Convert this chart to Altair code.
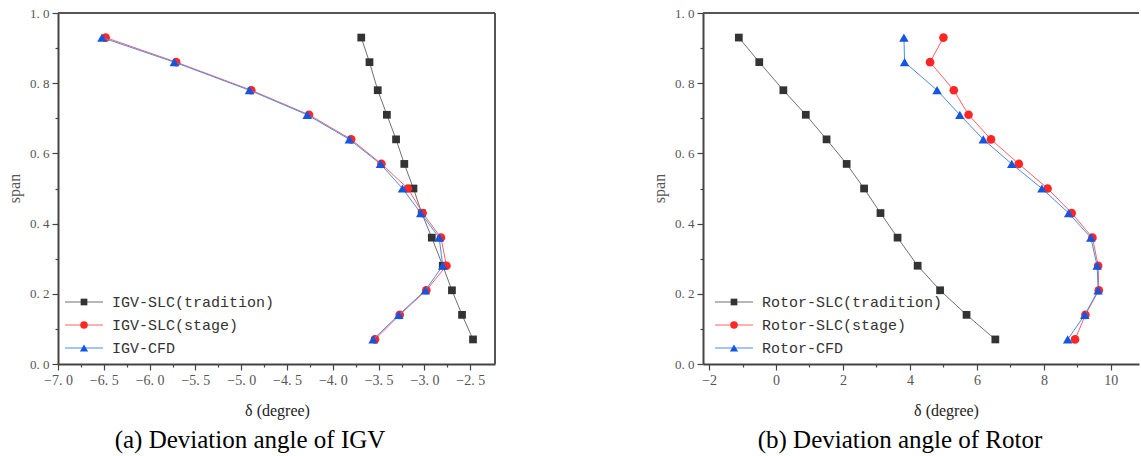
import altair as alt
import pandas as pd

# ---------------- data ----------------
span = [0.93, 0.86, 0.78, 0.71, 0.64, 0.57, 0.50, 0.43, 0.36, 0.28, 0.21, 0.14, 0.07]

igv_trad = [-3.69, -3.60, -3.51, -3.41, -3.31, -3.22, -3.12, -3.03, -2.92, -2.80, -2.70, -2.59, -2.47]
igv_stage = [-6.48, -5.71, -4.89, -4.26, -3.80, -3.47, -3.18, -3.02, -2.82, -2.76, -2.98, -3.27, -3.54]
igv_cfd = [-6.52, -5.73, -4.91, -4.28, -3.82, -3.48, -3.24, -3.04, -2.84, -2.80, -2.99, -3.28, -3.56]

rotor_trad = [-1.11, -0.50, 0.22, 0.89, 1.51, 2.11, 2.63, 3.12, 3.63, 4.23, 4.90, 5.69, 6.55]
rotor_stage = [5.00, 4.60, 5.31, 5.75, 6.42, 7.25, 8.11, 8.83, 9.45, 9.62, 9.64, 9.24, 8.93]
rotor_cfd = [3.82, 3.84, 4.81, 5.49, 6.19, 7.04, 7.94, 8.74, 9.40, 9.59, 9.62, 9.22, 8.71]

igv_names = ["IGV-SLC(tradition)", "IGV-SLC(stage)", "IGV-CFD"]
rotor_names = ["Rotor-SLC(tradition)", "Rotor-SLC(stage)", "Rotor-CFD"]

igv_ticks = [-7.0 + 0.25 * i for i in range(19)]
rotor_ticks = [float(v) for v in range(-2, 11)]
span_ticks = [round(0.1 * i, 1) for i in range(11)]

captions = ["(a) Deviation angle of IGV", "(b) Deviation angle of Rotor"]

# ---------------- styles ----------------
STYLES = [
    dict(line="#707070", marker="#333333", shape="square", size=60),
    dict(line="#ff6060", marker="#ff2626", shape="circle", size=75),
    dict(line="#4a8ce8", marker="#1556e0", shape="triangle-up", size=90),
]
AX = "#444444"
LABEL_FONT = "Liberation Serif"
ONE = pd.DataFrame({"k": [0]})


def panel(series, names, domain, width, xticks, major_test, label_expr,
          title_x, caption, caption_x, leg_x0, ylabel_size):
    height = 351
    xaxis = alt.Axis(
        values=xticks, labelExpr=label_expr, labelOverlap=False, labelFlush=False,
        tickSize={"condition": {"test": major_test, "value": 6}, "value": 3},
        title="δ (degree)", titleX=title_x, titleY=51, titleBaseline="alphabetic",
        titleFont=LABEL_FONT, titleFontSize=16, titleFontWeight="normal", titleColor="#222222",
        labelFont=LABEL_FONT, labelFontSize=14, labelColor="#555555", labelPadding=3,
        grid=False, domainColor=AX, domainWidth=2, tickColor=AX, tickWidth=1.2,
    )
    yaxis = alt.Axis(
        values=span_ticks, labelOverlap=False, labelFlush=False,
        labelExpr="round(datum.value*10) % 2 == 0 ? replace(format(datum.value, '.1f'), '.', '. ') : ''",
        tickSize={"condition": {"test": "round(datum.value*10) % 2 == 0", "value": 6}, "value": 3},
        title="span", titleX=-44, titleY=175, titleAngle=270, titleAlign="center",
        titleBaseline="middle", titleFont=LABEL_FONT, titleFontSize=16,
        titleFontWeight="normal", titleColor="#555555",
        labelFont=LABEL_FONT, labelFontSize=ylabel_size, labelColor="#555555", labelPadding=3,
        grid=False, domainColor=AX, domainWidth=2, tickColor=AX, tickWidth=1.2,
    )
    xs = alt.X("x:Q", scale=alt.Scale(domain=domain, nice=False, zero=False), axis=xaxis)
    ys = alt.Y("span:Q", scale=alt.Scale(domain=[0, 1], nice=False, zero=False), axis=yaxis)

    layers = []
    for i, (vals, name, st) in enumerate(zip(series, names, STYLES)):
        df = pd.DataFrame({"x": vals, "span": span, "idx": list(range(len(span))), "series": name})
        layers.append(
            alt.Chart(df).mark_line(color=st["line"], strokeWidth=1)
            .encode(x=xs, y=ys, order="idx:Q")
        )
        layers.append(
            alt.Chart(df).mark_point(filled=True, opacity=1, color=st["marker"],
                                     shape=st["shape"], size=st["size"])
            .encode(x=xs, y=ys)
        )

    # legend (drawn inside the plot, Origin style)
    for i, (name, st) in enumerate(zip(names, STYLES)):
        yy = 289 + 23 * i
        ldf = pd.DataFrame({"label": [name]})
        layers.append(alt.Chart(ldf).mark_rule(color=st["line"], strokeWidth=1).encode(
            x=alt.value(leg_x0), x2=alt.value(leg_x0 + 38), y=alt.value(yy)))
        layers.append(alt.Chart(ldf).mark_point(filled=True, opacity=1, color=st["marker"],
                                                shape=st["shape"], size=st["size"] * 0.75).encode(
            x=alt.value(leg_x0 + 19), y=alt.value(yy)))
        layers.append(alt.Chart(ldf).mark_text(align="left", baseline="middle", font="Liberation Mono",
                                               fontSize=15, color="#333333").encode(
            x=alt.value(leg_x0 + 47), y=alt.value(yy), text="label:N"))

    # frame (top)
    layers.append(alt.Chart(ONE).mark_rule(color="#555555", strokeWidth=2).encode(
        x=alt.value(0), x2=alt.value(width), y=alt.value(0)))
    # caption
    cdf = pd.DataFrame({"c": [caption]})
    layers.append(alt.Chart(cdf).mark_text(align="center", baseline="alphabetic", font=LABEL_FONT,
                                           fontSize=25, color="#000000").encode(
        x=alt.value(caption_x), y=alt.value(435), text="c:N"))
    return layers, height


left_layers, h = panel(
    [igv_trad, igv_stage, igv_cfd], igv_names, [-7.0, -2.23], 437, igv_ticks,
    "round(datum.value*4) % 2 == 0",
    "round(datum.value*4) % 2 == 0 ? replace(format(datum.value, '.1f'), '.', '. ') : ''",
    219, captions[0], 192, 7, 13)
# right frame line of the left panel + invisible anchor fixing the top-left corner
left_layers.append(alt.Chart(ONE).mark_rule(color="#555555", strokeWidth=2).encode(
    x=alt.value(437), y=alt.value(0), y2=alt.value(351)))
left_layers.append(alt.Chart(ONE).mark_rule(opacity=0, strokeWidth=1).encode(
    x=alt.value(-57.5), y=alt.value(-12.5), y2=alt.value(442.5)))

right_layers, _ = panel(
    [rotor_trad, rotor_stage, rotor_cfd], rotor_names, [-2.18, 10.84], 436, rotor_ticks,
    "round(datum.value) % 2 == 0",
    "round(datum.value) % 2 == 0 ? format(datum.value, 'd') : ''",
    243, captions[1], 197, 12, 13)

left = alt.layer(*left_layers).properties(width=437, height=351)
right = alt.layer(*right_layers).properties(width=436, height=351)

chart = (
    alt.hconcat(left, right, spacing=208, bounds="flush")
    .properties(padding=0, background="white")
    .configure_view(stroke="transparent", strokeWidth=0)
)

chart.save("out.html", embed_options={"renderer": "svg", "actions": False})
